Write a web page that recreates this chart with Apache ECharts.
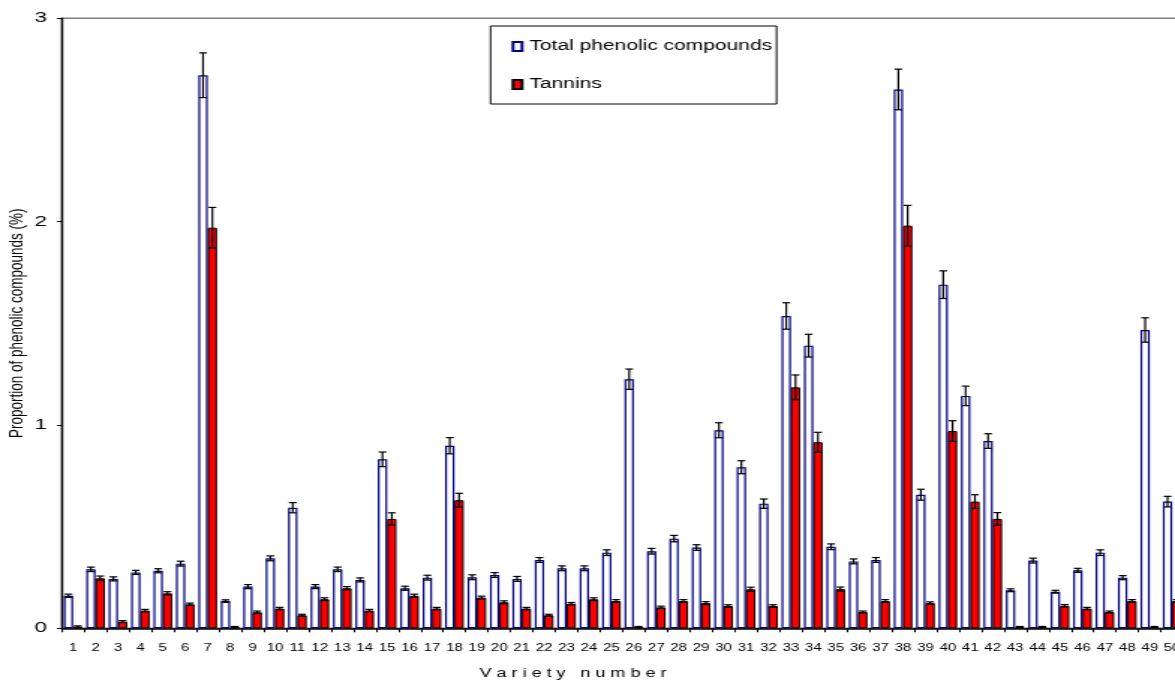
<!DOCTYPE html>
<html>
<head>
<meta charset="utf-8">
<script src="https://cdn.jsdelivr.net/npm/echarts@6/dist/echarts.min.js"></script>
<style>
  html, body { margin: 0; padding: 0; background: #fff; overflow: hidden; }
  /* the chart is laid out narrow and widened 1.5x horizontally */
  #chart { width: 784px; height: 685px; transform: scaleX(1.4987); transform-origin: 0 0; }
</style>
</head>
<body>
<div id="chart"></div>
<script>
// Varieties 1..50
const varieties = Array.from({ length: 50 }, (_, i) => String(i + 1));

// Total phenolic compounds (%) and standard errors
const totalPhenolics = [0.16, 0.29, 0.243, 0.275, 0.283, 0.318, 2.72, 0.134, 0.205, 0.344,
  0.593, 0.205, 0.29, 0.238, 0.831, 0.197, 0.249, 0.898, 0.251, 0.262,
  0.243, 0.336, 0.295, 0.295, 0.372, 1.225, 0.379, 0.441, 0.397, 0.974,
  0.792, 0.613, 1.536, 1.39, 0.401, 0.329, 0.336, 2.65, 0.657, 1.69,
  1.143, 0.921, 0.187, 0.333, 0.18, 0.285, 0.372, 0.249, 1.467, 0.623];
const totalErr = [0.008, 0.011, 0.01, 0.01, 0.01, 0.012, 0.11, 0.006, 0.01, 0.012,
  0.025, 0.01, 0.011, 0.01, 0.036, 0.01, 0.012, 0.04, 0.012, 0.012,
  0.012, 0.012, 0.012, 0.012, 0.014, 0.05, 0.014, 0.016, 0.014, 0.037,
  0.032, 0.023, 0.065, 0.056, 0.014, 0.012, 0.012, 0.1, 0.027, 0.068,
  0.048, 0.036, 0.007, 0.012, 0.007, 0.01, 0.014, 0.01, 0.06, 0.026];

// Tannins (%) and standard errors
const tannins = [0.008, 0.246, 0.033, 0.087, 0.172, 0.118, 1.97, 0.006, 0.079, 0.097,
  0.064, 0.143, 0.197, 0.087, 0.538, 0.16, 0.097, 0.63, 0.151, 0.128,
  0.097, 0.064, 0.121, 0.143, 0.134, 0.006, 0.103, 0.134, 0.124, 0.11,
  0.192, 0.11, 1.185, 0.915, 0.193, 0.08, 0.134, 1.98, 0.124, 0.97,
  0.623, 0.538, 0.006, 0.006, 0.111, 0.097, 0.08, 0.134, 0.006, 0.134];
const tanninErr = [0.004, 0.011, 0.005, 0.006, 0.008, 0.006, 0.1, 0.003, 0.006, 0.006,
  0.005, 0.007, 0.008, 0.006, 0.03, 0.008, 0.006, 0.034, 0.007, 0.007,
  0.006, 0.005, 0.006, 0.007, 0.007, 0.003, 0.006, 0.007, 0.007, 0.006,
  0.01, 0.006, 0.061, 0.049, 0.01, 0.005, 0.007, 0.1, 0.006, 0.051,
  0.034, 0.031, 0.003, 0.003, 0.006, 0.006, 0.005, 0.007, 0.003, 0.007];

const yTicks = [0, 1, 2, 3];

const FONT = '"Liberation Sans", Arial, Helvetica, sans-serif';
const CAT_GAP = 0.17; // share of each category left empty

function errorBars(name, values, errs, side) {
  return {
    type: 'custom',
    name: name,
    z: 10,
    silent: true,
    data: values.map((v, i) => [i, v, errs[i]]),
    encode: { x: 0, y: 1 },
    renderItem: function (params, api) {
      const idx = api.value(0);
      const v = api.value(1);
      const e = api.value(2);
      const band = api.size([1, 0])[0];
      const bw = band * (1 - CAT_GAP) / 2;
      const hi = api.coord([idx, v + e]);
      const lo = api.coord([idx, Math.max(0, v - e)]);
      const x = hi[0] + side * bw / 2;
      const hw = bw * 0.42;
      const style = { stroke: '#000', lineWidth: 1.2 };
      return {
        type: 'group',
        children: [
          { type: 'line', shape: { x1: x, y1: hi[1], x2: x, y2: lo[1] }, style: style },
          { type: 'line', shape: { x1: x - hw, y1: hi[1], x2: x + hw, y2: hi[1] }, style: style },
          { type: 'line', shape: { x1: x - hw, y1: lo[1], x2: x + hw, y2: lo[1] }, style: style }
        ]
      };
    }
  };
}

const chart = echarts.init(document.getElementById('chart'), null, { renderer: 'canvas' });

chart.setOption({
  animation: false,
  backgroundColor: '#fff',
  textStyle: { fontFamily: FONT },
  grid: {
    left: 41.3, right: -5.6, top: 18.3, bottom: 56.7,
    containLabel: false,
    outerBoundsMode: 'none',
    show: true, borderColor: '#808080', borderWidth: 1.5, backgroundColor: 'transparent'
  },
  legend: {
    orient: 'vertical',
    left: 327.3, top: 26,
    data: ['Total phenolic compounds', 'Tannins'],
    icon: 'rect',
    itemWidth: 6, itemHeight: 9, itemGap: 24,
    padding: [13.5, 3, 12.5, 14],
    borderColor: '#000', borderWidth: 1,
    backgroundColor: '#fff',
    selectedMode: false,
    textStyle: { fontSize: 14, color: '#000', fontFamily: FONT }
  },
  xAxis: {
    type: 'category',
    data: varieties,
    axisLine: { lineStyle: { color: '#000', width: 1.5 } },
    axisTick: { show: true, alignWithLabel: false, length: 4, lineStyle: { color: '#000', width: 1 } },
    axisLabel: { interval: 0, fontSize: 10, color: '#000', margin: 15, fontFamily: FONT },
    splitLine: { show: false }
  },
  yAxis: {
    type: 'value',
    min: yTicks[0], max: yTicks[yTicks.length - 1], interval: 1,
    name: 'Proportion of phenolic compounds (%)',
    nameLocation: 'middle',
    nameGap: 23,
    nameMoveOverlap: false,
    nameTextStyle: { fontSize: 13.5, color: '#000', fontFamily: FONT },
    axisLine: { show: true, lineStyle: { color: '#000', width: 1.3 } },
    axisTick: { show: true, length: 3.3, lineStyle: { color: '#000', width: 1 } },
    axisLabel: { fontSize: 15, color: '#000', margin: 10, fontFamily: FONT },
    splitLine: { show: false }
  },
  graphic: [{
    type: 'text',
    left: 320, top: 668,
    style: { text: 'V a r i e t y   n u m b e r', fontSize: 12, fill: '#000', fontFamily: FONT }
  }],
  series: [
    {
      name: 'Total phenolic compounds',
      type: 'bar',
      data: totalPhenolics,
      barGap: '0%',
      barCategoryGap: (CAT_GAP * 100) + '%',
      itemStyle: { color: '#ffffff', borderColor: '#000080', borderWidth: 1.2 }
    },
    {
      name: 'Tannins',
      type: 'bar',
      data: tannins,
      barGap: '0%',
      barCategoryGap: (CAT_GAP * 100) + '%',
      itemStyle: { color: '#ff0000', borderColor: '#000000', borderWidth: 1 }
    },
    errorBars('total-err', totalPhenolics, totalErr, -1),
    errorBars('tannin-err', tannins, tanninErr, 1)
  ]
});
</script>
</body>
</html>
